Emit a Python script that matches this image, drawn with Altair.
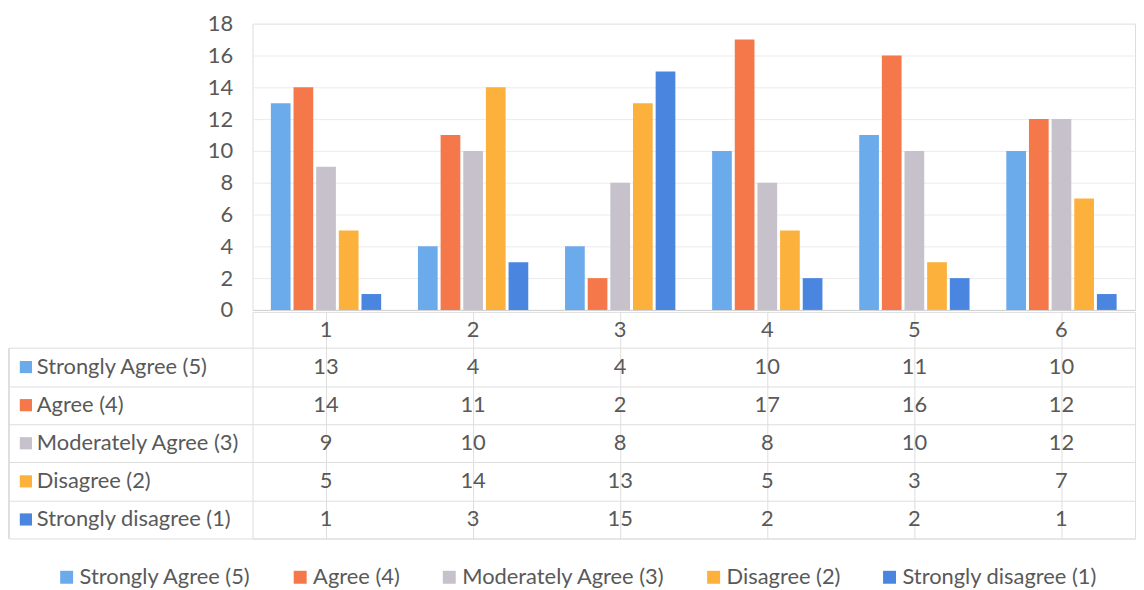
import altair as alt
import pandas as pd

categories = ["1", "2", "3", "4", "5", "6"]
series_names = ["Strongly Agree (5)", "Agree (4)", "Moderately Agree (3)", "Disagree (2)", "Strongly disagree (1)"]
strongly_agree = [13, 4, 4, 10, 11, 10]
agree = [14, 11, 2, 17, 16, 12]
moderately_agree = [9, 10, 8, 8, 10, 12]
disagree = [5, 14, 13, 5, 3, 7]
strongly_disagree = [1, 3, 15, 2, 2, 1]
y_ticks = [0, 2, 4, 6, 8, 10, 12, 14, 16, 18]
colors = ["#6CABEB", "#F4784A", "#C6C1CB", "#FBB13C", "#4A86E0"]

values = [strongly_agree, agree, moderately_agree, disagree, strongly_disagree]

FONT = "Lato"
TXT = "#595959"
GRID = "#DEDEDE"
HEADER = 36 / 38.0
FS = 22

rows = []
for si, (name, vals) in enumerate(zip(series_names, values)):
    for c, v in zip(categories, vals):
        rows.append({"cat": c, "series": name, "value": v, "row": si + 0.5, "label": str(v)})
df = pd.DataFrame(rows)

header = pd.DataFrame({"cat": categories, "row": [-HEADER / 2] * len(categories), "label": categories})
labels_df = pd.DataFrame({"series": series_names, "row": [i + 0.5 for i in range(len(series_names))]})

color = alt.Color(
    "series:N",
    scale=alt.Scale(domain=series_names, range=colors),
    legend=alt.Legend(
        title=None, orient="none", legendX=-198, legendY=546, direction="horizontal", symbolType="square",
        symbolSize=170, labelFontSize=FS, labelFont=FONT, labelColor=TXT, labelOffset=2,
        columnPadding=38, symbolStrokeWidth=0, labelLimit=400,
    ),
)

bars = alt.Chart(df).mark_bar().encode(
    x=alt.X("cat:N", sort=categories, title=None,
            scale=alt.Scale(paddingInner=0.25, paddingOuter=0.125),
            axis=alt.Axis(labels=False, ticks=False, domain=True, domainColor="#D0D0D0", grid=False,
                          minExtent=0, offset=0)),
    xOffset=alt.XOffset("series:N", sort=series_names, scale=alt.Scale(paddingInner=0.13, paddingOuter=0)),
    y=alt.Y("value:Q", title=None, scale=alt.Scale(domain=[0, 18], nice=False),
            axis=alt.Axis(values=y_ticks, labelFontSize=FS, labelFont=FONT, labelColor=TXT,
                          labelPadding=20, ticks=False, domain=False, grid=True, gridColor="#EBEBEB")),
    color=color,
).properties(width=888, height=288)

ysc = alt.Scale(domain=[5, -HEADER], nice=False, zero=False)
yax = alt.Axis(values=[0, 1, 2, 3, 4, 5], labels=False, grid=True, gridColor=GRID, ticks=True,
               tickSize=245, tickColor=GRID, domain=False, title=None)
xax = alt.Axis(labels=False, ticks=False, domain=False, grid=True, gridColor=GRID, bandPosition=0,
               title=None, minExtent=0)

base_x = alt.X("cat:N", sort=categories, scale=alt.Scale(paddingInner=0, paddingOuter=0), axis=xax, title=None)

cell_text = alt.Chart(df).mark_text(fontSize=FS, font=FONT, color=TXT).encode(
    x=base_x, y=alt.Y("row:Q", scale=ysc, axis=yax, title=None), text="label:N")

head_text = alt.Chart(header).mark_text(fontSize=FS, font=FONT, color=TXT).encode(
    x=base_x, y=alt.Y("row:Q", scale=ysc, title=None), text="label:N")

row_labels = alt.Chart(labels_df).mark_text(fontSize=FS, font=FONT, color=TXT, align="left").encode(
    x=alt.value(-217), y=alt.Y("row:Q", scale=ysc, title=None), text="series:N")

row_squares = alt.Chart(labels_df).mark_square(size=150, opacity=1).encode(
    x=alt.value(-228), y=alt.Y("row:Q", scale=ysc, title=None), color=color)

left_edge = alt.Chart(labels_df).mark_rule(color=GRID).encode(
    x=alt.value(-245), y=alt.datum(0), y2=alt.datum(5))

table = alt.layer(cell_text, head_text, row_labels, row_squares, left_edge).properties(
    width=888, height=228, view=alt.ViewBackground(stroke=GRID, strokeWidth=1))

chart = alt.vconcat(bars, table, spacing=2, bounds="flush").configure_view(strokeWidth=0).configure(
    padding={"left": 0, "top": 2, "right": 0, "bottom": 0}
)

chart.save("out.html", embed_options={"renderer": "svg", "actions": False})
